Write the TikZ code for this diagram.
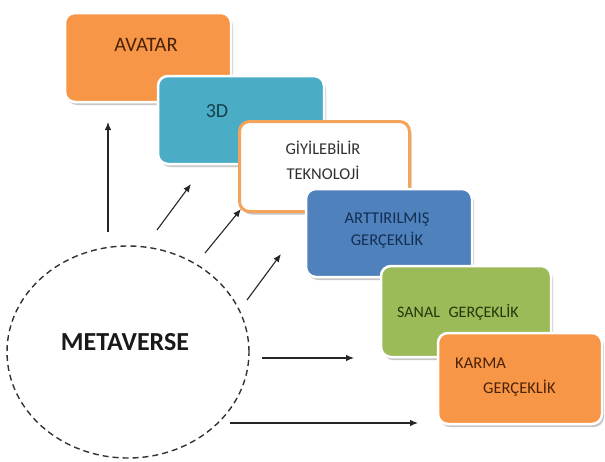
\documentclass[tikz,border=0pt]{standalone}
\usepackage{fontspec}
\setmainfont{Carlito}
\usetikzlibrary{arrows.meta, shapes.geometric, shadows}
\definecolor{cardorange}{HTML}{F79646}
\definecolor{cardteal}{HTML}{4BACC6}
\definecolor{cardblue}{HTML}{4F81BD}
\definecolor{cardgreen}{HTML}{9BBB59}
\definecolor{rimorange}{HTML}{F4A45A}
\definecolor{inkbrown}{HTML}{4A2208}
\definecolor{inkteal}{HTML}{173F4E}
\definecolor{inknavy}{HTML}{132F52}
\definecolor{inkgreen}{HTML}{26360A}
\definecolor{inkgrey}{HTML}{303030}

\begin{document}
\begin{tikzpicture}[x=1pt, y=-1pt, font=\fontsize{16}{22}\selectfont,
  card/.style={rounded corners=10pt, draw=white, line width=2.5pt, inner sep=0pt,
    drop shadow={shadow xshift=2pt, shadow yshift=-3pt, fill=black!40, opacity=0.55}},
  cardtext/.style={align=center, inner sep=0pt},
  hub/.style={ellipse, draw=black!80, line width=1.4pt, dash pattern=on 6pt off 4pt,
    inner sep=0pt, minimum width=242pt, minimum height=212pt},
  arr/.style={-{Latex[length=8pt, width=6.5pt]}, line width=1.1pt, black!85}]
  \useasboundingbox[fill=white] (0,0) rectangle (605,461);

  % cards, back to front
  \node[card, fill=cardorange, minimum width=166pt, minimum height=89pt] (avatar) at (148,57.5) {};
  \node[cardtext, text=inkbrown, font=\fontsize{20.5}{22}\selectfont] (avatartxt) at (146,45) {AVATAR};
  \node[card, fill=cardteal, minimum width=166pt, minimum height=88pt] (threed) at (241,120) {};
  \node[cardtext, text=inkteal, font=\fontsize{20}{22}\selectfont] (threedtxt) at (217,111) {3D};
  \node[card, fill=white, draw=rimorange, line width=3pt, minimum width=170pt, minimum height=90pt] (wear) at (324.5,166.5) {};
  \node[cardtext, text=inkgrey, font=\fontsize{16.5}{25}\selectfont] (weartxt) at (323,160.5) {GİYİLEBİLİR\\TEKNOLOJİ};
  \node[card, fill=cardblue, minimum width=166pt, minimum height=88pt] (ar) at (389,233) {};
  \node[cardtext, text=inknavy, font=\fontsize{16.5}{22}\selectfont] (artxt) at (387,231) {ARTTIRILMIŞ\\GERÇEKLİK};
  \node[card, fill=cardgreen, minimum width=170pt, minimum height=91pt] (vr) at (466,311.5) {};
  \node[cardtext, text=inkgreen] (vrtxt) at (458,312) {SANAL\hspace{5pt} GERÇEKLİK};
  \node[card, fill=cardorange, minimum width=164pt, minimum height=91pt] (mr) at (520,378.5) {};
  \node[cardtext, align=left, text=inkbrown, font=\fontsize{16.5}{25}\selectfont, anchor=west] (mrtxt) at (455,377.5)
    {KARMA\\\hspace*{28pt}GERÇEKLİK};

  % hub
  \node[hub] (meta) at (128,352) {};
  \node[font=\fontsize{26}{30}\selectfont\bfseries, text=black!90] (metatxt) at (125,342) {METAVERSE};

  % arrows out of the hub
  \foreach \sx/\sy/\ex/\ey [count=\i] in {108/232/108/122, 157/230/191/184,
      205/253/241/209, 247/300/281/254, 262/358/354/358, 230/423/418/423}{%
    \coordinate (from\i) at (\sx,\sy);
    \coordinate (to\i) at (\ex,\ey);
    \draw[arr] (from\i) -- (to\i);}
\end{tikzpicture}
\end{document}
